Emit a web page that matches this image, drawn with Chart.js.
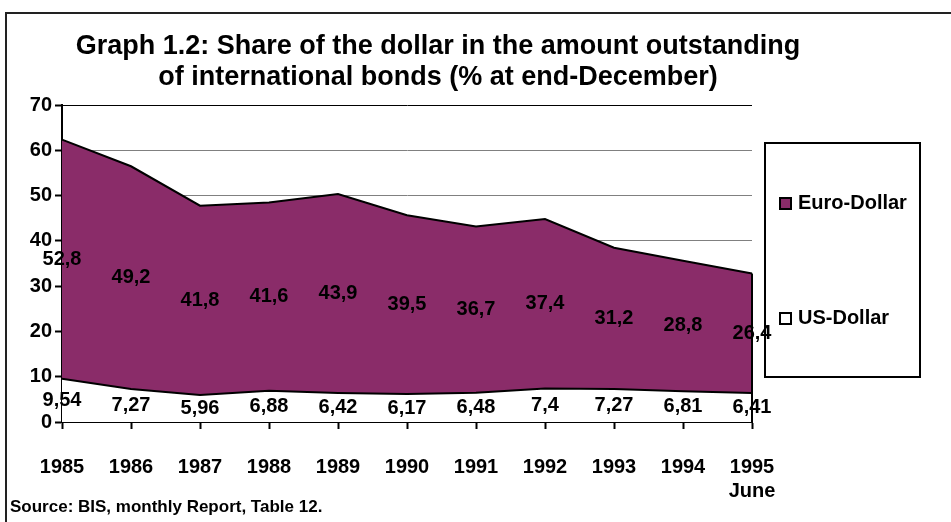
<!DOCTYPE html>
<html>
<head>
<meta charset="utf-8">
<script src="https://cdn.jsdelivr.net/npm/chart.js@4.4.1/dist/chart.umd.min.js"></script>
<style>
  html, body { margin: 0; padding: 0; background: #fff; overflow: hidden; }
  body { width: 951px; height: 522px; position: relative; font-family: Arial, "Liberation Sans", sans-serif; font-weight: bold; color: #000; }
  #frame { position: absolute; left: 5px; top: 12px; width: 960px; height: 530px; border: 2px solid #222; box-sizing: border-box; }
  #myChart { position: absolute; left: 0; top: 0; }
  #titulo { position: absolute; left: 0; top: 30px; width: 876px; text-align: center; font-size: 27px; line-height: 31px; }
  #fuente { position: absolute; left: 10px; top: 498px; font-size: 17px; line-height: 17px; white-space: nowrap; }
  #leyenda { position: absolute; left: 764px; top: 142px; width: 157px; height: 236px; border: 2px solid #000; box-sizing: border-box; }
  .item { position: absolute; left: 13px; font-size: 20px; line-height: 20px; white-space: nowrap; }
  .item span { display: inline-block; width: 13px; height: 13px; border: 2px solid #000; box-sizing: border-box; margin-right: 6px; vertical-align: -1px; }
</style>
</head>
<body>
<div id="frame"></div>
<canvas id="myChart" width="951" height="522"></canvas>
<div id="titulo">Graph 1.2: Share of the dollar in the amount outstanding<br>of international bonds (% at end-December)</div>
<div id="leyenda"></div>
<div id="fuente">Source: BIS, monthly Report, Table 12.</div>
<script>
const anios = ['1985', '1986', '1987', '1988', '1989', '1990', '1991', '1992', '1993', '1994', ['1995', 'June']];
const usDollar = [9.54, 7.27, 5.96, 6.88, 6.42, 6.17, 6.48, 7.4, 7.27, 6.81, 6.41];
const euroDollar = [52.8, 49.2, 41.8, 41.6, 43.9, 39.5, 36.7, 37.4, 31.2, 28.8, 26.4];
const nombresSeries = ['US-Dollar', 'Euro-Dollar'];
const coloresSeries = ['#ffffff', '#8a2c69'];
const ticksY = [0, 10, 20, 30, 40, 50, 60, 70];

const fuente = 'bold 20px Arial, "Liberation Sans", sans-serif';

// etiquetas en el centro de cada banda apilada
const etiquetasPlugin = {
    id: 'etiquetasBandas',
    afterDatasetsDraw(chart) {
        const ctx = chart.ctx;
        const y = chart.scales.y;
        const base = new Array(anios.length).fill(0);
        ctx.save();
        ctx.font = fuente;
        ctx.fillStyle = '#000';
        ctx.textAlign = 'center';
        ctx.textBaseline = 'middle';
        chart.data.datasets.forEach((ds, i) => {
            const meta = chart.getDatasetMeta(i);
            ds.data.forEach((v, j) => {
                const yPix = y.getPixelForValue(base[j] + v / 2);
                ctx.fillText(String(v).replace('.', ','), meta.data[j].x, yPix);
                base[j] += v;
            });
        });
        // borde vertical al final del area
        const ultimo = anios.length - 1;
        const arriba = chart.getDatasetMeta(chart.data.datasets.length - 1).data[ultimo];
        ctx.strokeStyle = '#000';
        ctx.lineWidth = 2;
        ctx.beginPath();
        ctx.moveTo(arriba.x, arriba.y);
        ctx.lineTo(arriba.x, chart.chartArea.bottom);
        ctx.stroke();
        ctx.restore();
    }
};

function crearLeyenda() {
    const caja = document.getElementById('leyenda');
    const posiciones = { 'Euro-Dollar': 48, 'US-Dollar': 163 };
    ['Euro-Dollar', 'US-Dollar'].forEach(nombre => {
        const idx = nombresSeries.indexOf(nombre);
        const div = document.createElement('div');
        div.className = 'item';
        div.style.top = posiciones[nombre] + 'px';
        div.innerHTML = '<span style="background:' + coloresSeries[idx] + '"></span>' + nombre;
        caja.appendChild(div);
    });
}

const ctx = document.getElementById('myChart').getContext('2d');
new Chart(ctx, {
    type: 'line',
    data: {
        labels: anios,
        datasets: [{
            label: nombresSeries[0],
            data: usDollar,
            backgroundColor: coloresSeries[0],
            borderColor: '#000',
            borderWidth: 2,
            fill: 'origin',
            pointRadius: 0,
            tension: 0
        }, {
            label: nombresSeries[1],
            data: euroDollar,
            backgroundColor: coloresSeries[1],
            borderColor: '#000',
            borderWidth: 2,
            fill: '-1',
            pointRadius: 0,
            tension: 0
        }]
    },
    options: {
        responsive: false,
        animation: false,
        layout: { padding: { left: 0, top: 105, right: 199, bottom: 0 } },
        plugins: {
            legend: { display: false },
            tooltip: { enabled: false },
            filler: { drawTime: 'beforeDatasetDraw' }
        },
        scales: {
            x: {
                offset: false,
                grid: { drawOnChartArea: false, tickLength: 7, tickColor: '#000', tickWidth: 2 },
                border: { color: '#000', width: 2 },
                ticks: { color: '#000', font: { family: 'Arial, "Liberation Sans", sans-serif', size: 20, weight: 'bold' }, padding: 26, maxRotation: 0, autoSkip: false },
                afterFit(scale) { scale.height = 100; }
            },
            y: {
                stacked: true,
                min: 0,
                max: 70,
                afterBuildTicks(scale) { scale.ticks = ticksY.map(v => ({ value: v })); },
                grid: {
                    color: c => (c.tick && c.tick.value === 70) ? '#000' : '#808080',
                    lineWidth: 1,
                    tickLength: 7,
                    tickColor: '#000',
                    tickWidth: 2
                },
                border: { color: '#000', width: 2 },
                ticks: { color: '#000', font: { family: 'Arial, "Liberation Sans", sans-serif', size: 20, weight: 'bold' }, padding: 3 },
                afterFit(scale) { scale.width = 62; }
            }
        }
    },
    plugins: [etiquetasPlugin]
});

crearLeyenda();
</script>
</body>
</html>
